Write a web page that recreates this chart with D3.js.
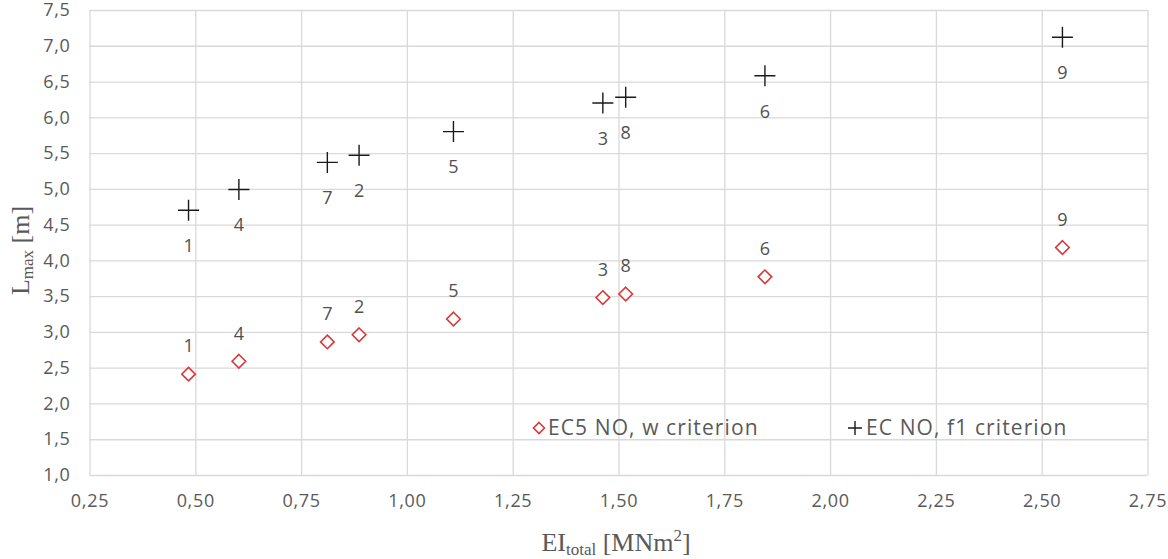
<!DOCTYPE html>
<html>
<head>
<meta charset="utf-8">
<script src="https://cdn.jsdelivr.net/npm/d3@7"></script>
<style>
  html, body { margin: 0; padding: 0; background: #fff; }
  svg { display: block; }
</style>
</head>
<body>
<svg id="chart" width="1168" height="559"></svg>
<script>
// Beam configurations 1–9: total bending stiffness and maximum span
const caseIds   = ["1", "4", "7", "2", "5", "3", "8", "6", "9"];
const eiTotal   = [0.484, 0.603, 0.812, 0.887, 1.110, 1.463, 1.517, 1.846, 2.549];
const lmaxW     = [2.41, 2.59, 2.86, 2.96, 3.18, 3.48, 3.53, 3.77, 4.18];   // EC5 NO, w criterion
const lmaxF1    = [4.70, 4.99, 5.37, 5.47, 5.80, 6.20, 6.28, 6.58, 7.12];   // EC NO, f1 criterion
const xTicks    = [0.25, 0.50, 0.75, 1.00, 1.25, 1.50, 1.75, 2.00, 2.25, 2.50, 2.75];
const yTicks    = [1.0, 1.5, 2.0, 2.5, 3.0, 3.5, 4.0, 4.5, 5.0, 5.5, 6.0, 6.5, 7.0, 7.5];
const seriesNames = ["EC5 NO, w criterion", "EC NO, f1 criterion"];

const svg = d3.select("#chart");
const m = { left: 89.5, right: 1147.5, top: 10, bottom: 475 };

const x = d3.scaleLinear().domain([0.25, 2.75]).range([m.left, m.right]);
const y = d3.scaleLinear().domain([1.0, 7.5]).range([m.bottom, m.top]);

const fmt2 = d => d3.format(".2f")(d).replace(".", ",");
const fmt1 = d => d3.format(".1f")(d).replace(".", ",");

const gridColor = "#d9d9d9";
const textColor = "#595959";
const tickFont = "'Open Sans', 'DejaVu Sans', sans-serif";

// gridlines
svg.append("g")
  .attr("transform", `translate(0,${m.bottom})`)
  .call(d3.axisBottom(x).tickValues(xTicks).tickSize(-(m.bottom - m.top)).tickFormat(""))
  .call(g => g.select(".domain").remove())
  .call(g => g.selectAll("line").attr("stroke", gridColor).attr("stroke-width", 1.3));

svg.append("g")
  .attr("transform", `translate(${m.left},0)`)
  .call(d3.axisLeft(y).tickValues(yTicks).tickSize(-(m.right - m.left)).tickFormat(""))
  .call(g => g.select(".domain").remove())
  .call(g => g.selectAll("line").attr("stroke", gridColor).attr("stroke-width", 1.3));

// tick labels
const xAxis = svg.append("g")
  .attr("transform", `translate(0,${m.bottom})`)
  .call(d3.axisBottom(x).tickValues(xTicks).tickSize(0).tickPadding(19).tickFormat(fmt2));
xAxis.select(".domain").remove();
xAxis.selectAll("text").attr("fill", textColor).style("font-family", tickFont)
  .style("font-size", "18px").style("letter-spacing", "0.7px");

const yAxis = svg.append("g")
  .attr("transform", `translate(${m.left},0)`)
  .call(d3.axisLeft(y).tickValues(yTicks).tickSize(0).tickPadding(19).tickFormat(fmt1));
yAxis.select(".domain").remove();
yAxis.selectAll("text").attr("fill", textColor).style("font-family", tickFont)
  .style("font-size", "18px").style("letter-spacing", "0.7px");

// axis titles
const serif = "'Liberation Serif', 'DejaVu Serif', serif";
const yTitle = svg.append("text")
  .attr("transform", `translate(29,${(m.top + m.bottom) / 2 + 8}) rotate(-90)`)
  .attr("text-anchor", "middle")
  .attr("fill", textColor)
  .style("font-family", serif)
  .style("font-size", "26px");
yTitle.append("tspan").text("L");
yTitle.append("tspan").attr("dy", 4).style("font-size", "17px").text("max");
yTitle.append("tspan").attr("dy", -4).text(" [m]");

const xTitle = svg.append("text")
  .attr("x", 616).attr("y", 551)
  .attr("text-anchor", "middle")
  .attr("fill", textColor)
  .style("font-family", serif)
  .style("font-size", "26px");
xTitle.append("tspan").text("EI");
xTitle.append("tspan").attr("dy", 4).style("font-size", "17px").text("total");
xTitle.append("tspan").attr("dy", -4).text(" [MNm");
xTitle.append("tspan").attr("dy", -10).style("font-size", "17px").text("2");
xTitle.append("tspan").attr("dy", 10).text("]");

// markers
const red = "#d9383a";
const dark = "#1a1a1a";
const diamond = (cx, cy, r) => `M${cx},${cy - r}L${cx + r},${cy}L${cx},${cy + r}L${cx - r},${cy}Z`;
const cross = (cx, cy, r) => `M${cx - r},${cy}H${cx + r}M${cx},${cy - r}V${cy + r}`;

const pts = caseIds.map((id, i) => ({ id, ei: eiTotal[i], w: lmaxW[i], f1: lmaxF1[i] }));

const labelFont = "'Open Sans', 'DejaVu Sans', sans-serif";

svg.append("g").selectAll("path").data(pts).join("path")
  .attr("d", d => diamond(x(d.ei), y(d.w), 6.8))
  .attr("fill", "#fff").attr("stroke", red).attr("stroke-width", 1.6);

svg.append("g").selectAll("path").data(pts).join("path")
  .attr("d", d => cross(x(d.ei), y(d.f1), 10.5))
  .attr("fill", "none").attr("stroke", dark).attr("stroke-width", 1.4);

// case labels: above the diamonds, below the crosses
svg.append("g").selectAll("text").data(pts).join("text")
  .attr("x", d => x(d.ei)).attr("y", d => y(d.w) - 28)
  .attr("dy", "0.35em").attr("text-anchor", "middle")
  .attr("fill", "#505050").style("font-family", labelFont).style("font-size", "18px")
  .text(d => d.id);

svg.append("g").selectAll("text").data(pts).join("text")
  .attr("x", d => x(d.ei)).attr("y", d => y(d.f1) + 35.5)
  .attr("dy", "0.35em").attr("text-anchor", "middle")
  .attr("fill", "#505050").style("font-family", labelFont).style("font-size", "18px")
  .text(d => d.id);

// legend
const legend = svg.append("g").style("font-family", tickFont)
  .style("font-size", "21px").style("letter-spacing", "1.1px");
const legendY = 428;
legend.append("path").attr("d", diamond(539, legendY, 5.5))
  .attr("fill", "#fff").attr("stroke", red).attr("stroke-width", 1.6);
legend.append("text").attr("x", 548).attr("y", legendY).attr("dy", "0.35em")
  .attr("fill", textColor).text(seriesNames[0]);
legend.append("path").attr("d", cross(855, legendY, 7))
  .attr("fill", "none").attr("stroke", dark).attr("stroke-width", 1.4);
legend.append("text").attr("x", 866).attr("y", legendY).attr("dy", "0.35em")
  .attr("fill", textColor).text(seriesNames[1]);
</script>
</body>
</html>
